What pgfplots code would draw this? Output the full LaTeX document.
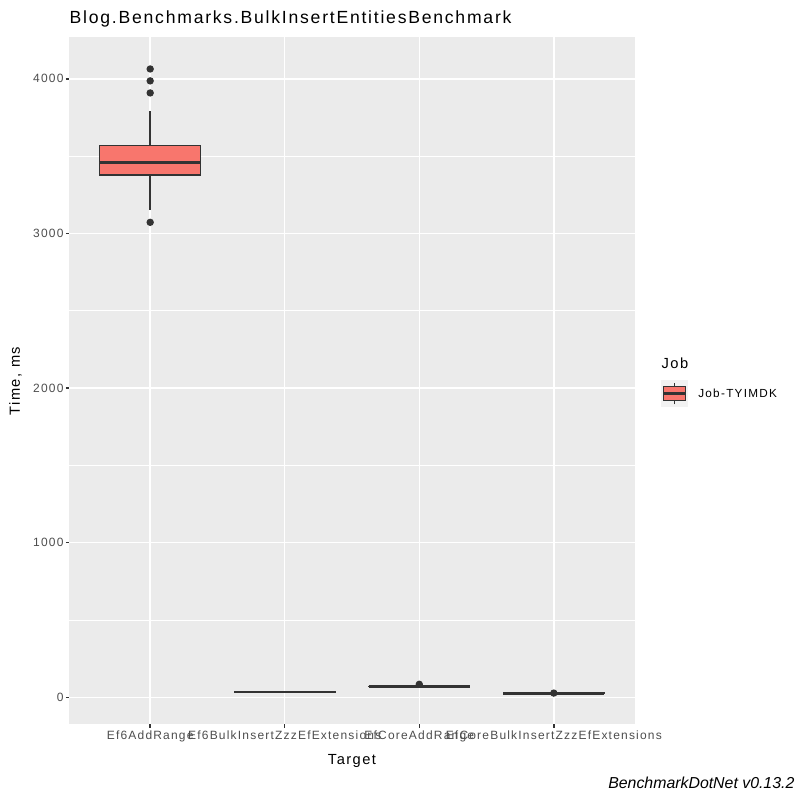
\documentclass[border=0pt]{standalone}
\usepackage{pgfplots}
\pgfplotsset{compat=1.18}
\usepgfplotslibrary{statistics}
\usepackage{fontspec}
\setmainfont{Liberation Sans}
% wider tracking imitates the hinted Arial of the reference
\newfontfamily\tickfont[LetterSpace=10]{Liberation Sans}
\newfontfamily\titlefont[LetterSpace=10]{Liberation Sans}
\newfontfamily\labfont[LetterSpace=10]{Liberation Sans}
\newfontfamily\legfont[LetterSpace=11]{Liberation Sans}
\definecolor{panelbg}{HTML}{EBEBEB}
\definecolor{keybg}{HTML}{F2F2F2}
\definecolor{boxfill}{HTML}{F8766D}
\definecolor{gray20}{HTML}{333333}
\definecolor{gray30}{HTML}{4D4D4D}
\newcommand{\fs}[1]{\fontsize{#1}{#1}\selectfont}
\begin{document}
\begin{tikzpicture}
\path[use as bounding box] (0,0) rectangle (600pt,600pt);
\begin{axis}[
    at={(52.1pt,57pt)}, anchor=south west,
    scale only axis, width=423.8pt, height=515.5pt,
    xmin=0.4, xmax=4.6, ymin=-173, ymax=4273,
    axis background/.style={fill=panelbg},
    axis line style={draw=none},
    xtick={1,2,3,4},
    xticklabels={Ef6AddRange,Ef6BulkInsertZzzEfExtensions,EfCoreAddRange,EfCoreBulkInsertZzzEfExtensions},
    ytick={0,1000,2000,3000,4000},
    minor ytick={500,1500,2500,3500},
    xmajorgrids, ymajorgrids, yminorgrids,
    major grid style={white, line width=1.07pt},
    minor grid style={white, line width=0.53pt},
    tick align=outside, tick pos=left,
    major tick length=2.75pt, minor tick length=0pt,
    tick style={draw=gray20, line width=1.07pt},
    /pgf/number format/assume math mode=true,
    /pgf/number format/1000 sep={},
    yticklabel style={font=\tickfont\fs{9}, text=gray30, inner sep=2pt, xshift=0.5pt},
    xticklabel style={font=\tickfont\fs{9}, text=gray30, inner sep=2pt},
    boxplot/draw direction=y,
    boxplot/every median/.style={line width=2.13pt},
]
\addplot[boxplot prepared={draw position=1, lower whisker=3152, lower quartile=3378,
    median=3457, upper quartile=3569, upper whisker=3789, box extend=0.75, whisker extend=0},
    fill=boxfill, draw=gray20, line width=1.07pt,
    mark=*, mark size=2.2pt, mark options={solid, fill=gray20, draw=none}]
    table[row sep=\\, y index=0] {data\\ 4064\\ 3987\\ 3909\\ 3072\\};
\addplot[boxplot prepared={draw position=2, lower whisker=31, lower quartile=33,
    median=34, upper quartile=35, upper whisker=37, box extend=0.75, whisker extend=0},
    fill=boxfill, draw=gray20, line width=1.07pt] coordinates {};
\addplot[boxplot prepared={draw position=3, lower whisker=66, lower quartile=68,
    median=69, upper quartile=70, upper whisker=72, box extend=0.75, whisker extend=0},
    fill=boxfill, draw=gray20, line width=1.07pt,
    mark=*, mark size=2.2pt, mark options={solid, fill=gray20, draw=none}]
    table[row sep=\\, y index=0] {data\\ 84\\};
\addplot[boxplot prepared={draw position=4, lower whisker=23, lower quartile=25,
    median=26, upper quartile=27, upper whisker=28, box extend=0.75, whisker extend=0},
    fill=boxfill, draw=gray20, line width=1.07pt,
    mark=*, mark size=2.2pt, mark options={solid, fill=gray20, draw=none}]
    table[row sep=\\, y index=0] {data\\ 27\\};
\end{axis}
% title, axis titles, caption
\node[anchor=base west, inner sep=0pt, font=\titlefont\fs{13.2}] at (52.1pt,582pt) {Blog.Benchmarks.BulkInsertEntitiesBenchmark};
\node[anchor=base, inner sep=0pt, font=\labfont\fs{11}] at (264pt,26.8pt) {Target};
\node[rotate=90, anchor=center, inner sep=0pt, font=\labfont\fs{11}] at (11.6pt,314.2pt) {Time, ms};
\node[anchor=base east, inner sep=0pt, font=\fs{11.9}\itshape] at (596pt,9pt) {BenchmarkDotNet v0.13.2};
% legend
\node[anchor=base west, inner sep=0pt, font=\labfont\fs{11}] at (496pt,323.25pt) {Job};
\fill[keybg] (495.75pt,294.75pt) rectangle (516pt,315pt);
\draw[gray20, line width=1.07pt] (505.9pt,296.8pt) -- (505.9pt,313pt);
\filldraw[fill=boxfill, draw=gray20, line width=1.07pt] (497.8pt,299.8pt) rectangle (514pt,310pt);
\draw[gray20, line width=2.13pt] (497.8pt,304.9pt) -- (514pt,304.9pt);
\node[anchor=west, inner sep=0pt, font=\legfont\fs{8.8}] at (523.5pt,304.9pt) {Job-TYIMDK};
\end{tikzpicture}
\end{document}
